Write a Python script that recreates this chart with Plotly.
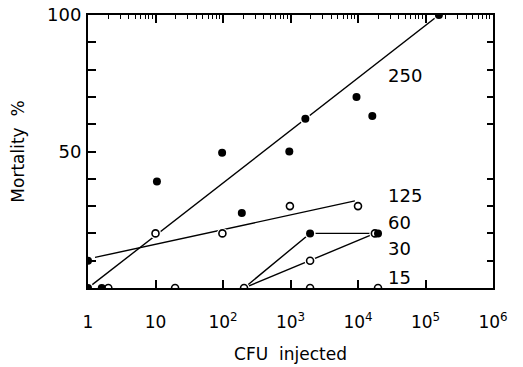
import numpy as np
import plotly.graph_objects as go

# ---- data ----
# filled-circle observations (CFU injected, mortality %)
filled_x = [1, 1, 1.6, 10.5, 97, 190, 960, 1660, 9500, 16300, 158000, 1950, 19800]
filled_y = [0, 10, 0, 39, 49.5, 27.5, 50, 62, 70, 63, 100, 20, 20]
# open-circle observations
open_x = [10, 98, 980, 10000, 2.0, 19.5, 205, 1950, 1950, 17800, 19800]
open_y = [20, 20, 30, 30, 0, 0, 0, 10, 0, 20, 0]

# fitted / connecting lines per group
line_250_x = [1, 158000]
line_250_y = [0, 100]
line_125_x = [1.27, 9000]
line_125_y = [11.2, 31.9]
line_60_x = [205, 1950, 19800]
line_60_y = [0, 20, 20]
line_30_x = [205, 1950, 17800]
line_30_y = [0, 10, 20]

group_labels = ["250", "125", "60", "30", "15"]
group_label_y = [78, 34, 24, 14.3, 4]

x_tick_vals = [1, 10, 100, 1000, 10000, 100000, 1000000]
x_tick_text = ["1", "10", "10<sup>2</sup>", "10<sup>3</sup>", "10<sup>4</sup>",
               "10<sup>5</sup>", "10<sup>6</sup>"]
y_tick_vals = [50, 100]
y_tick_text = ["50", "100"]
y_minor_vals = [10, 20, 30, 40, 60, 70, 80, 90]

FONT = "DejaVu Sans"
fig = go.Figure()

for lx, ly in [(line_250_x, line_250_y), (line_125_x, line_125_y),
               (line_60_x, line_60_y), (line_30_x, line_30_y)]:
    fig.add_trace(go.Scatter(x=lx, y=ly, mode="lines",
                             line=dict(color="black", width=1.4),
                             showlegend=False, hoverinfo="skip"))

# white halos to create the small gaps around markers
fig.add_trace(go.Scatter(x=filled_x + open_x, y=filled_y + open_y, mode="markers",
                         marker=dict(color="white", size=11, line=dict(width=0)),
                         showlegend=False, hoverinfo="skip"))

fig.add_trace(go.Scatter(x=open_x, y=open_y, mode="markers",
                         marker=dict(color="white", size=7, symbol="circle",
                                     line=dict(color="black", width=1.6)),
                         showlegend=False))
fig.add_trace(go.Scatter(x=filled_x, y=filled_y, mode="markers",
                         marker=dict(color="black", size=8, symbol="circle",
                                     line=dict(width=0)),
                         showlegend=False))

# dummy trace for the mirrored axes
fig.add_trace(go.Scatter(x=[1], y=[0], xaxis="x2", yaxis="y2", mode="markers",
                         marker=dict(opacity=0), showlegend=False, hoverinfo="skip"))

for lab, yy in zip(group_labels, group_label_y):
    fig.add_annotation(x=4.42, y=yy, text=lab, showarrow=False,
                       xanchor="left", yanchor="middle",
                       font=dict(family=FONT, size=18, color="black"))

minor_x = [m * 10 ** e for e in range(0, 6) for m in range(2, 10)]

axis_common = dict(showgrid=False, zeroline=False, showline=True, linewidth=2,
                   linecolor="black", ticks="inside", tickcolor="black", tickwidth=1.5,
                   automargin=False)

fig.update_layout(
    width=523, height=367,
    margin=dict(l=88, r=30, t=15, b=79),
    paper_bgcolor="white", plot_bgcolor="white",
    font=dict(family=FONT, size=17, color="black"),
    xaxis=dict(type="log", range=[0, 6], tickvals=x_tick_vals, ticktext=x_tick_text,
               ticklen=8, tickfont=dict(size=17), ticklabelstandoff=18,
               ticklabeloverflow="allow",
               title=dict(text="CFU  injected", font=dict(size=17), standoff=17),
               **axis_common),
    xaxis2=dict(type="log", range=[0, 6], overlaying="x", side="top",
                tickvals=x_tick_vals, ticklen=8, showticklabels=False,
                minor=dict(tickvals=minor_x, ticks="inside", ticklen=4,
                           tickcolor="black", tickwidth=1.2, showgrid=False),
                **axis_common),
    yaxis=dict(range=[0, 100], tickvals=y_tick_vals, ticktext=y_tick_text,
               ticklen=8, tickfont=dict(size=18), ticklabelstandoff=1,
               ticklabeloverflow="allow",
               minor=dict(tickvals=y_minor_vals, ticks="inside", ticklen=8,
                          tickcolor="black", tickwidth=1.5, showgrid=False),
               title=dict(text="Mortality  %", font=dict(size=17), standoff=18),
               **axis_common),
    yaxis2=dict(range=[0, 100], overlaying="y", side="right",
                tickvals=y_minor_vals, ticklen=6, showticklabels=False,
                **axis_common),
)

fig.write_html("out.html", config={"displayModeBar": False},
               post_script="document.body.style.margin='0';")
